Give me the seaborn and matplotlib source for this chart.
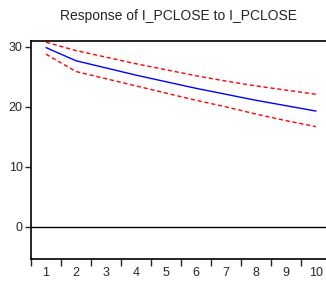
import numpy as np
import pandas as pd
import matplotlib
matplotlib.use("Agg")
import matplotlib.pyplot as plt
import seaborn as sns

periods = [1, 2, 3, 4, 5, 6, 7, 8, 9, 10]
response = [29.9, 27.7, 26.5, 25.3, 24.2, 23.1, 22.1, 21.1, 20.2, 19.3]
upper_band = [30.8, 29.4, 28.3, 27.2, 26.2, 25.2, 24.3, 23.5, 22.8, 22.1]
lower_band = [28.8, 25.9, 24.7, 23.5, 22.3, 21.1, 20.0, 18.8, 17.7, 16.7]
y_ticks = [0, 10, 20, 30]

sns.set_style("ticks")
plt.rcParams['font.family'] = ['Liberation Sans', 'DejaVu Sans']

df = pd.DataFrame({"period": periods, "response": response,
                   "upper": upper_band, "lower": lower_band})

fig = plt.figure(figsize=(3.26, 2.84), dpi=100)
ax = fig.add_axes([31 / 326, 25 / 284, 300 / 326, 218 / 284])

sns.lineplot(data=df, x="period", y="response", color="blue", lw=1, ax=ax)
sns.lineplot(data=df, x="period", y="upper", color="red", lw=1, ax=ax,
             dashes=False, linestyle=(0, (3, 2)))
sns.lineplot(data=df, x="period", y="lower", color="red", lw=1, ax=ax,
             dashes=False, linestyle=(0, (3, 2)))
ax.axhline(0, color="black", lw=1)

ax.set_xlim(0.5, 10.5)
ax.set_ylim(-5.4, 31)
ax.set_yticks(y_ticks)
ax.set_xticks(np.arange(0.5, 10.5, 1))
ax.set_xticklabels([])
ax.set_xticks(periods, minor=True)
ax.set_xticklabels([str(p) for p in periods], minor=True)
ax.tick_params(axis="x", which="major", length=5, width=1, direction="out")
ax.tick_params(axis="x", which="minor", length=0, labelsize=9, pad=6)
ax.tick_params(axis="y", length=4, width=1, labelsize=9, pad=2)
ax.set_xlabel("")
ax.set_ylabel("")
for s in ax.spines.values():
    s.set_color("black")
    s.set_linewidth(1.2)

fig.text(178 / 326, 1 - 16 / 284, "Response of I_PCLOSE to I_PCLOSE",
         ha="center", va="center", fontsize=10)

fig.savefig("out.png", dpi=100)
